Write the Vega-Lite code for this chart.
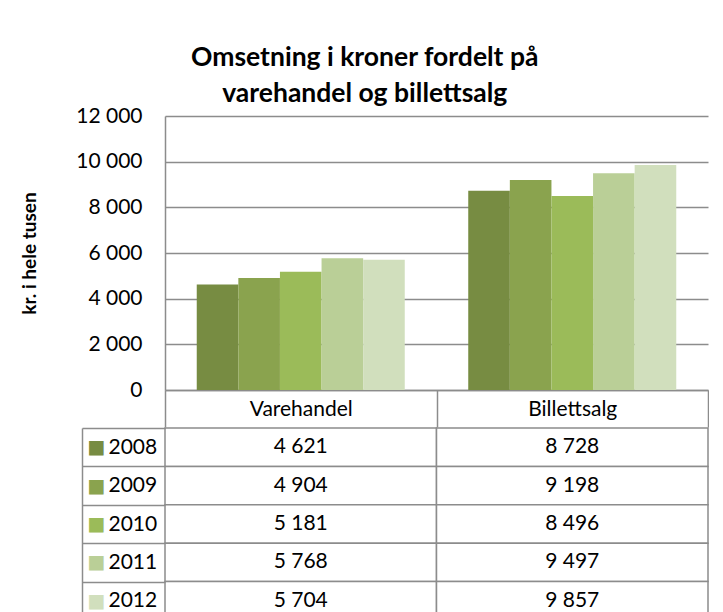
{
  "$schema": "https://vega.github.io/schema/vega-lite/v6.json",
  "padding": {"left": 20, "top": 44, "right": 0, "bottom": 0},
  "background": "white",
  "title": {
    "text": ["Omsetning i kroner fordelt på", "varehandel og billettsalg"],
    "font": "Lato",
    "fontSize": 26.5,
    "fontWeight": "bold",
    "lineHeight": 36,
    "color": "black",
    "anchor": "middle",
    "frame": "bounds",
    "offset": -2
  },
  "data": {
    "values": [
      {"category": "Varehandel", "year": "2008", "value": 4621},
      {"category": "Varehandel", "year": "2009", "value": 4904},
      {"category": "Varehandel", "year": "2010", "value": 5181},
      {"category": "Varehandel", "year": "2011", "value": 5768},
      {"category": "Varehandel", "year": "2012", "value": 5704},
      {"category": "Billettsalg", "year": "2008", "value": 8728},
      {"category": "Billettsalg", "year": "2009", "value": 9198},
      {"category": "Billettsalg", "year": "2010", "value": 8496},
      {"category": "Billettsalg", "year": "2011", "value": 9497},
      {"category": "Billettsalg", "year": "2012", "value": 9857}
    ]
  },
  "spacing": -13,
  "vconcat": [
    {
      "width": 543,
      "height": 274,
      "mark": {"type": "bar"},
      "encoding": {
        "x": {
          "field": "category",
          "type": "nominal",
          "sort": ["Varehandel", "Billettsalg"],
          "scale": {"paddingInner": 0, "paddingOuter": 0},
          "axis": {
            "title": null,
            "labelAngle": 0,
            "labelFontSize": 21,
            "labelColor": "black",
            "labelPadding": -18,
            "labelBaseline": "middle",
            "labelOverlap": false,
            "ticks": true,
            "tickBand": "extent",
            "tickSize": 37,
            "tickColor": "#8c8c8c",
            "tickWidth": 1.5,
            "domainColor": "#8c8c8c",
            "domainWidth": 1.5
          }
        },
        "xOffset": {
          "field": "year",
          "type": "nominal",
          "scale": {"paddingInner": 0, "paddingOuter": 0.763}
        },
        "y": {
          "field": "value",
          "type": "quantitative",
          "scale": {"domain": [0, 12000]},
          "axis": {
            "title": "kr. i hele tusen",
            "titleFont": "Lato",
            "titleFontSize": 19,
            "titleFontWeight": "bold",
            "titleColor": "black",
            "titlePadding": 36,
            "values": [0, 2000, 4000, 6000, 8000, 10000, 12000],
            "format": ",d",
            "labelFontSize": 21,
            "labelColor": "black",
            "labelPadding": 23,
            "ticks": false,
            "domainColor": "#8c8c8c",
            "domainWidth": 1.5,
            "grid": true,
            "gridColor": "#8c8c8c",
            "gridWidth": 1.5
          }
        },
        "color": {
          "field": "year",
          "type": "nominal",
          "scale": {
            "domain": ["2008", "2009", "2010", "2011", "2012"],
            "range": ["#778c42", "#8aa34e", "#9bbb59", "#bacf97", "#d1dfbd"]
          },
          "legend": null
        }
      }
    },
    {
      "width": 543,
      "height": 192,
      "resolve": {"axis": {"y": "independent"}},
      "layer": [
        {
          "mark": {"type": "rect", "fill": "white", "stroke": "#8c8c8c", "strokeWidth": 1.5},
          "encoding": {
            "x": {
              "field": "category",
              "type": "nominal",
              "sort": ["Varehandel", "Billettsalg"],
              "scale": {"paddingInner": 0, "paddingOuter": 0},
              "axis": null
            },
            "y": {
              "field": "year",
              "type": "nominal",
              "scale": {"paddingInner": 0, "paddingOuter": 0},
              "axis": {
                "orient": "left",
                "title": null,
                "domain": false,
                "ticks": true,
                "tickBand": "extent",
                "tickSize": 83,
                "tickColor": "#8c8c8c",
                "tickWidth": 1.5,
                "labelAlign": "left",
                "labelBaseline": "middle",
                "labelPadding": -26,
                "labelFontSize": 21,
                "labelColor": "black",
                "grid": false
              }
            }
          }
        },
        {
          "mark": {"type": "text", "fontSize": 21, "color": "black"},
          "encoding": {
            "x": {
              "field": "category",
              "type": "nominal",
              "sort": ["Varehandel", "Billettsalg"]
            },
            "y": {
              "field": "year",
              "type": "nominal",
              "axis": {
                "orient": "left",
                "title": null,
                "offset": 83,
                "domain": true,
                "domainColor": "#8c8c8c",
                "domainWidth": 1.5,
                "ticks": false,
                "grid": false,
                "labelExpr": "'■'",
                "labelFont": "DejaVu Sans",
                "labelFontSize": 19,
                "labelAlign": "left",
                "labelBaseline": "middle",
                "labelPadding": -5,
                "labelColor": {
                  "condition": [
                    {"test": "datum.value === '2008'", "value": "#778c42"},
                    {"test": "datum.value === '2009'", "value": "#8aa34e"},
                    {"test": "datum.value === '2010'", "value": "#9bbb59"},
                    {"test": "datum.value === '2011'", "value": "#bacf97"}
                  ],
                  "value": "#d1dfbd"
                }
              }
            },
            "text": {"field": "value", "type": "quantitative", "format": ",d"}
          }
        }
      ]
    }
  ],
  "config": {
    "font": "Lato",
    "view": {"stroke": null},
    "locale": {
      "number": {"decimal": ",", "thousands": " ", "grouping": [3], "currency": ["", " kr"]}
    }
  }
}
